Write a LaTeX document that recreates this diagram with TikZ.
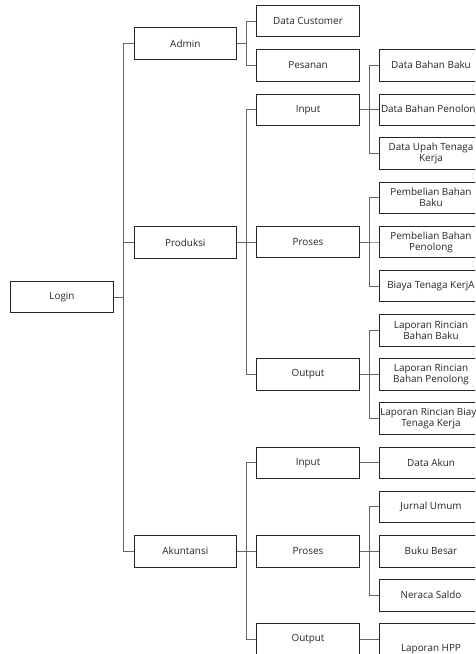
\documentclass[tikz,border=0pt]{standalone}
\usepackage{fontspec}
\setmainfont{Open Sans}
\begin{document}
\begin{tikzpicture}[x=1pt,y=-1pt,
  box/.style={draw=black!85, line width=0.8pt, minimum width=102.6pt, minimum height=31.5pt,
    inner sep=0pt, align=center, text=black!85, font=\fontsize{9.9}{11}\selectfont},
  conn/.style={draw=black!60, line width=0.8pt}]
\useasboundingbox (0,0) rectangle (475,654);
\clip (0,0) rectangle (475,654);
% column 1
\node[box, minimum width=103.4pt] (login) at (62,297) {Login};
% column 2
\node[box] (admin) at (185.3,43.3) {Admin};
\node[box] (prod) at (185.3,242.3) {Produksi};
\node[box] (akun) at (185.3,551.2) {Akuntansi};
% column 3
\node[box] (dcust) at (308,21) {Data Customer};
\node[box] (pesan) at (308,65.2) {Pesanan};
\node[box] (pin) at (308,109.7) {Input};
\node[box] (pproc) at (308,242) {Proses};
\node[box] (pout) at (308,374.3) {Output};
\node[box] (ain) at (308,462.7) {Input};
\node[box] (aproc) at (308,551.2) {Proses};
\node[box] (aout) at (308,639) {Output};
% column 4
\node[box] (dbb) at (431,65.2) {Data Bahan Baku};
\node[box] (dbp) at (431,109.7) {\makebox[0pt]{Data Bahan Penolong}};
\node[box] (dutk) at (431,153.5) {Data Upah Tenaga\\Kerja};
\node[box] (pbb) at (431,197.7) {Pembelian Bahan\\Baku};
\node[box] (pbp) at (431,242) {Pembelian Bahan\\Penolong};
\node[box] (btk) at (431,286) {Biaya Tenaga KerjA};
\node[box] (lrbb) at (431,330.2) {Laporan Rincian\\Bahan Baku};
\node[box] (lrbp) at (431,374.3) {Laporan Rincian\\Bahan Penolong};
\node[box] (lrbtk) at (431,418.5) {\makebox[0pt]{Laporan Rincian Biaya}\\Tenaga Kerja};
\node[box] (dakun) at (431,462.7) {Data Akun};
\node[box] (ju) at (431,506.7) {Jurnal Umum};
\node[box] (bb) at (431,551.2) {Buku Besar};
\node[box] (ns) at (431,595.2) {Neraca Saldo};
\node[box, minimum height=52pt] (lhpp) at (431,649.3) {Laporan HPP};
% connectors level 1
\foreach \c in {admin,prod,akun}
  \draw[conn] (\c.west) -- ++(-10,0) |- (login.east);
% level 2
\foreach \c in {dcust,pesan}
  \draw[conn] (\c.west) -- ++(-10.2,0) |- (admin.east);
\foreach \c in {pin,pproc,pout}
  \draw[conn] (\c.west) -- ++(-10.2,0) |- (prod.east);
\foreach \c in {ain,aproc,aout}
  \draw[conn] (\c.west) -- ++(-10.2,0) |- (akun.east);
% level 3
\foreach \c in {dbb,dbp,dutk}
  \draw[conn] (\c.west) -- ++(-10.2,0) |- (pin.east);
\foreach \c in {pbb,pbp,btk}
  \draw[conn] (\c.west) -- ++(-10.2,0) |- (pproc.east);
\foreach \c in {lrbb,lrbp,lrbtk}
  \draw[conn] (\c.west) -- ++(-10.2,0) |- (pout.east);
\draw[conn] (dakun.west) -- (ain.east);
\foreach \c in {ju,bb,ns}
  \draw[conn] (\c.west) -- ++(-10.2,0) |- (aproc.east);
\draw[conn] (lhpp.west |- aout.east) -- (aout.east);
\end{tikzpicture}
\end{document}
